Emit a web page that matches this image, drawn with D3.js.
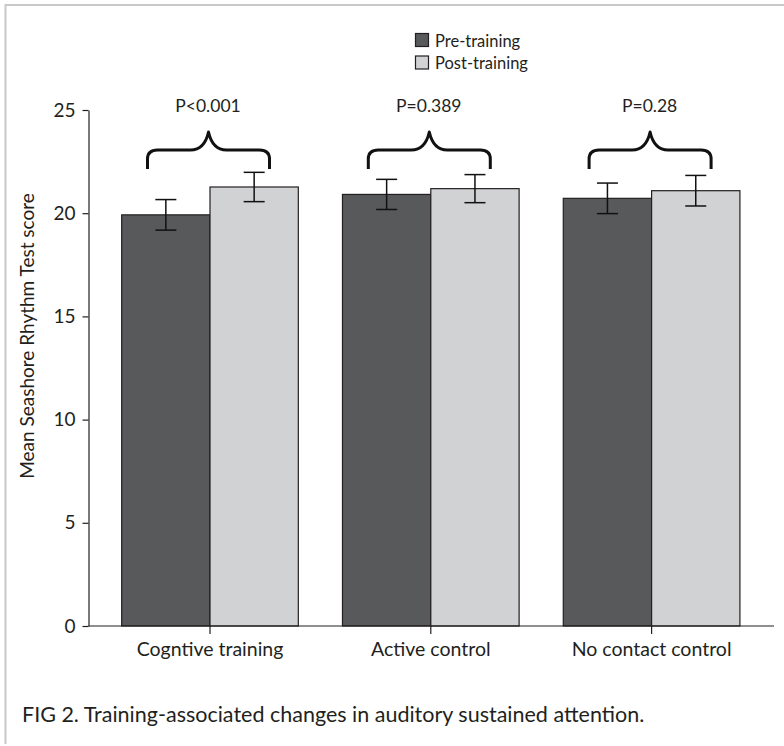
<!DOCTYPE html>
<html>
<head>
<meta charset="utf-8">
<script src="https://cdn.jsdelivr.net/npm/d3@7"></script>
<style>
  html, body { margin: 0; padding: 0; background: #fff; }
  svg { display: block; font-family: Lato, "Open Sans", sans-serif; }
</style>
</head>
<body>
<svg id="chart" width="784" height="746"></svg>
<script>
const categories = ["Cogntive training", "Active control", "No contact control"];
const seriesNames = ["Pre-training", "Post-training"];
const preValues = [19.92, 20.91, 20.72];
const postValues = [21.27, 21.19, 21.09];
const preErrors = [0.74, 0.73, 0.74];
const postErrors = [0.71, 0.68, 0.74];
const pLabels = ["P<0.001", "P=0.389", "P=0.28"];
const yTicks = [0, 5, 10, 15, 20, 25];
const colors = ["#58595b", "#d1d2d4"];

const svg = d3.select("#chart");
const FONT = "Lato, 'Open Sans', sans-serif";

// frame (top and left light border)
svg.append("line").attr("x1", 5).attr("x2", 784).attr("y1", 5).attr("y2", 5)
  .attr("stroke", "#c8c8c8").attr("stroke-width", 2);
svg.append("line").attr("x1", 5.5).attr("x2", 5.5).attr("y1", 4).attr("y2", 744)
  .attr("stroke", "#c8c8c8").attr("stroke-width", 2);

const axisX = 88.5;
const y = d3.scaleLinear().domain([0, 25]).range([626, 110]);
const x = d3.scaleBand().domain(categories).range([99.6, 762])
  .paddingInner(0.2).paddingOuter(0.1);
const xs = d3.scaleBand().domain(seriesNames).range([0, x.bandwidth()]);

const data = categories.map((c, i) => ({
  cat: c,
  vals: [
    { s: seriesNames[0], v: preValues[i], e: preErrors[i], col: colors[0] },
    { s: seriesNames[1], v: postValues[i], e: postErrors[i], col: colors[1] }
  ]
}));

const groups = svg.append("g").selectAll("g").data(data).join("g")
  .attr("transform", d => `translate(${x(d.cat)},0)`);

groups.selectAll("rect").data(d => d.vals).join("rect")
  .attr("x", d => xs(d.s))
  .attr("y", d => y(d.v))
  .attr("width", xs.bandwidth())
  .attr("height", d => y(0) - y(d.v))
  .attr("fill", d => d.col)
  .attr("stroke", "#231f20")
  .attr("stroke-width", 1.2);

// error bars
const eb = groups.selectAll("g.eb").data(d => d.vals).join("g").attr("class", "eb");
const cx = d => xs(d.s) + xs.bandwidth() / 2;
eb.append("line").attr("x1", cx).attr("x2", cx)
  .attr("y1", d => y(d.v + d.e)).attr("y2", d => y(d.v - d.e))
  .attr("stroke", "#111").attr("stroke-width", 1.5);
eb.append("line").attr("x1", d => cx(d) - 10.5).attr("x2", d => cx(d) + 10.5)
  .attr("y1", d => y(d.v + d.e)).attr("y2", d => y(d.v + d.e))
  .attr("stroke", "#111").attr("stroke-width", 1.5);
eb.append("line").attr("x1", d => cx(d) - 10.5).attr("x2", d => cx(d) + 10.5)
  .attr("y1", d => y(d.v - d.e)).attr("y2", d => y(d.v - d.e))
  .attr("stroke", "#111").attr("stroke-width", 1.5);

// y axis
const yAxis = d3.axisLeft(y).tickValues(yTicks).tickSize(6).tickSizeOuter(0).tickPadding(7);
const gy = svg.append("g").attr("transform", `translate(${axisX},0)`).call(yAxis);
gy.select(".domain").attr("stroke", "#231f20").attr("stroke-width", 1.2);
gy.selectAll(".tick line").attr("stroke", "#231f20").attr("stroke-width", 1.2);
gy.selectAll(".tick text").attr("font-size", 19).attr("fill", "#231f20")
  .attr("font-family", FONT);

// x axis
svg.append("line").attr("x1", axisX).attr("x2", 774).attr("y1", y(0)).attr("y2", y(0))
  .attr("stroke", "#231f20").attr("stroke-width", 1.2);
const xAxis = d3.axisBottom(x).tickSize(8).tickSizeOuter(0).tickPadding(8);
const gx = svg.append("g").attr("transform", `translate(0,${y(0)})`).call(xAxis);
gx.select(".domain").remove();
gx.selectAll(".tick line").attr("stroke", "#231f20").attr("stroke-width", 1.2);
gx.selectAll(".tick text").attr("font-size", 19.5).attr("fill", "#231f20")
  .attr("font-family", FONT);

// y axis title
svg.append("text")
  .attr("transform", `translate(34,336) rotate(-90)`)
  .attr("text-anchor", "middle").attr("font-size", 19).attr("fill", "#231f20")
  .text("Mean Seashore Rhythm Test score");

// braces and P labels
const braceHalf = 61;
function bracePath(c) {
  const l = c - braceHalf, r = c + braceHalf, top = 150, bot = 169, peak = 132;
  return `M${l},${bot} L${l},${top + 9} Q${l},${top} ${l + 10},${top}` +
    ` L${c - 18},${top} Q${c - 4},${top} ${c},${peak}` +
    ` Q${c + 4},${top} ${c + 18},${top} L${r - 10},${top} Q${r},${top} ${r},${top + 9} L${r},${bot}`;
}
svg.append("g").selectAll("path").data(categories).join("path")
  .attr("d", d => bracePath(x(d) + x.bandwidth() / 2 - 1.5))
  .attr("fill", "none").attr("stroke", "#111").attr("stroke-width", 3)
  .attr("stroke-linejoin", "round");
svg.append("g").selectAll("text").data(categories).join("text")
  .attr("x", d => x(d) + x.bandwidth() / 2 - 2)
  .attr("y", 112)
  .attr("text-anchor", "middle").attr("font-size", 17.5).attr("fill", "#231f20")
  .text((d, i) => pLabels[i]);

// legend
const lg = svg.append("g").attr("transform", "translate(415,33)");
seriesNames.forEach((s, i) => {
  lg.append("rect").attr("x", 0.5).attr("y", i * 22.5 + 0.5).attr("width", 13).attr("height", 13)
    .attr("fill", colors[i]).attr("stroke", "#231f20").attr("stroke-width", 1.2);
  lg.append("text").attr("x", 20).attr("y", i * 22.5 + 13.5)
    .attr("font-size", 16.5).attr("fill", "#231f20").text(s);
});

// caption
svg.append("text").attr("x", 22).attr("y", 722).attr("font-size", 21.5).attr("fill", "#231f20")
  .text("FIG 2. Training-associated changes in auditory sustained attention.");
</script>
</body>
</html>
